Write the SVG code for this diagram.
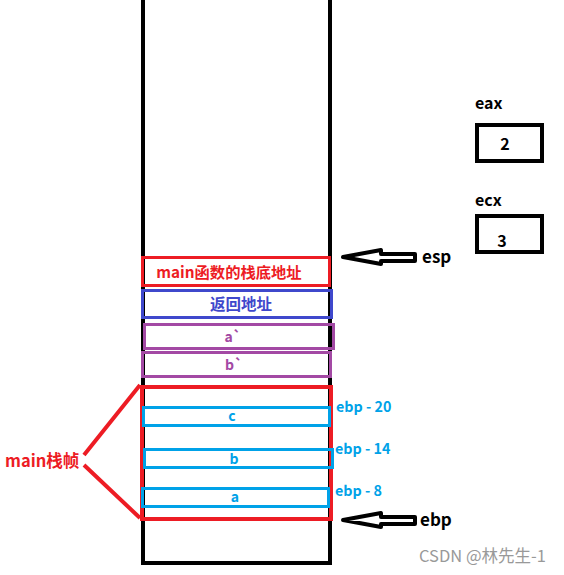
<svg xmlns="http://www.w3.org/2000/svg" width="564" height="575" viewBox="0 0 564 575">
<style>
text{font-family:"Noto Sans CJK SC","Microsoft YaHei","Noto Sans",sans-serif;font-weight:bold}
.blk{fill:none;stroke:#000;stroke-width:4}
.red{fill:none;stroke:#ED1C24;stroke-width:3}
.redT{fill:none;stroke:#ED1C24;stroke-width:4}
.blu{fill:none;stroke:#3F48CC;stroke-width:3}
.pur{fill:none;stroke:#A349A4;stroke-width:3}
.cy{fill:none;stroke:#00A2E8;stroke-width:3}
.cyT{fill:#00A2E8;font-size:14.3px}
.arrow{fill:#fff;stroke:#000;stroke-width:4;stroke-linejoin:round}
</style>
<rect width="564" height="575" fill="#fff"/>
<g id="stack">
<path class="blk" d="M143,-5 V563 H330 V-5"/>
</g>
<g id="main-base"><rect class="red" x="142.5" y="257.5" width="187" height="28"/><text x="229" y="278" font-size="15.3" fill="#ED1C24" text-anchor="middle">main函数的栈底地址</text></g>
<g id="ret"><rect class="blu" x="142.5" y="290.5" width="189" height="27"/><text x="241" y="310" font-size="15.5" fill="#3F48CC" text-anchor="middle">返回地址</text></g>
<g id="a2"><rect class="pur" x="144.5" y="324.5" width="189" height="24"/><text x="233" y="342" font-size="14" fill="#A349A4" text-anchor="middle">a`</text></g>
<g id="b2"><rect class="pur" x="142.5" y="352.5" width="188" height="24"/><text x="234" y="370" font-size="14" fill="#A349A4" text-anchor="middle">b`</text></g>
<g id="main-frame"><rect class="redT" x="142" y="387" width="189" height="132"/></g>
<g id="c"><rect class="cy" x="143.5" y="407.5" width="186" height="18"/><text x="232" y="421" font-size="14" fill="#00A2E8" text-anchor="middle">c</text><text class="cyT" x="336" y="412">ebp - 20</text></g>
<g id="b"><rect class="cy" x="144.5" y="449.5" width="188" height="18"/><text x="234" y="464" font-size="14" fill="#00A2E8" text-anchor="middle">b</text><text class="cyT" x="335" y="454">ebp - 14</text></g>
<g id="a"><rect class="cy" x="142.5" y="488.5" width="186" height="18"/><text x="235" y="502" font-size="14" fill="#00A2E8" text-anchor="middle">a</text><text class="cyT" x="335" y="496">ebp - 8</text></g>
<g id="label-main"><text x="5" y="467" font-size="16.5" fill="#ED1C24">main栈帧</text></g>
<g id="eax"><text x="475" y="109" font-size="16" fill="#000">eax</text><rect class="blk" x="477" y="125" width="65" height="36"/><text x="505" y="150" font-size="16" fill="#000" text-anchor="middle">2</text></g>
<g id="ecx"><text x="475" y="206" font-size="16" fill="#000">ecx</text><rect class="blk" x="477" y="216" width="65" height="36"/><text x="502" y="247" font-size="16" fill="#000" text-anchor="middle">3</text></g>
<g id="connectors">
<path d="M140,385 L84,455 M84,465 L140,518" fill="none" stroke="#ED1C24" stroke-width="4"/>
<polygon class="arrow" points="343,257 381,250 381,254 415,254 415,261 381,261 381,264"/>
<polygon class="arrow" points="343,520 381,513 381,517 415,517 415,524 381,524 381,527"/>
</g>
<g id="esp"><text x="422" y="263" font-size="17" fill="#000">esp</text></g>
<g id="ebp"><text x="420" y="526" font-size="17" fill="#000">ebp</text></g>
<text x="419" y="562" font-size="16.5" fill="#999" style="font-weight:normal">CSDN @林先生-1</text>
</svg>
